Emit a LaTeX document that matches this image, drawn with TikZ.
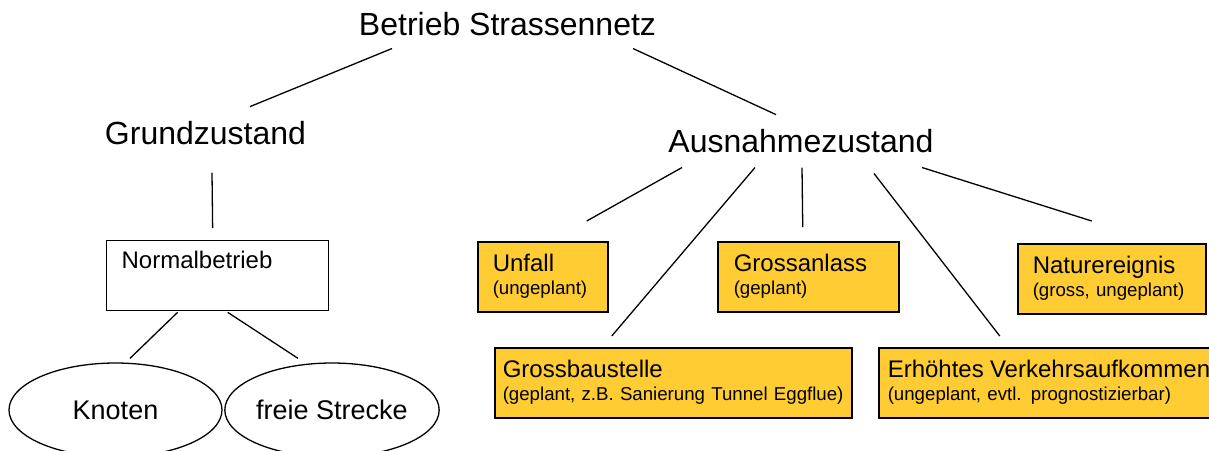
\documentclass[tikz,border=0pt]{standalone}
\usepackage{fontspec}
\setmainfont{Liberation Sans}
\usetikzlibrary{shapes.geometric}
\definecolor{eventfill}{HTML}{FFCC33}
\newcommand{\eventname}[1]{{\fontsize{24}{23}\selectfont #1}}

\begin{document}
\begin{tikzpicture}[
    x=1pt, y=-1pt,
    heading/.style={inner sep=0pt, anchor=base, font=\fontsize{32}{38}\selectfont},
    plainbox/.style={rectangle, draw, line width=1.3pt, anchor=north west, inner xsep=15pt, inner ysep=0pt, align=left, text height=28pt, text depth=42pt, font=\fontsize{24}{28}\selectfont},
    event/.style={rectangle, draw, line width=1.5pt, fill=eventfill, anchor=north west, inner ysep=0pt, align=left, text height=30pt, text depth=40pt, font=\fontsize{18.67}{23}\selectfont},
    place/.style={ellipse, draw, line width=1.3pt, minimum width=213pt, minimum height=94pt, inner sep=0pt, font=\fontsize{27}{32}\selectfont},
    link/.style={line width=1.3pt}
]
    \clip (0,0) rectangle (1209,450);

    % top of the tree
    \node[heading] (netz) at (507.5,35) {Betrieb Strassennetz};
    \node[heading] (grund) at (205.5,144) {Grundzustand};
    \node[heading] (ausnahme) at (801,152) {Ausnahmezustand};

    % normal operation
    \node[plainbox, text width=192pt] (normal) at (106,240) {Normalbetrieb};
    \node[place] (knoten) at (115.5,410) {Knoten};
    \node[place] (strecke) at (332,410) {freie Strecke};

    % exceptional states
    \node[event, inner xsep=15pt, text width=100pt] (unfall) at (477,241) {\eventname{Unfall}\\(ungeplant)};
    \node[event, inner xsep=16pt, text width=149pt] (anlass) at (717,241) {\eventname{Grossanlass}\\(geplant)};
    \node[event, inner xsep=15pt, text width=158pt] (natur) at (1017,243) {\eventname{Naturereignis}\\(gross, ungeplant)};
    \node[event, inner xsep=8pt, text width=341pt] (baustelle) at (494,347) {\eventname{Grossbaustelle}\\(geplant, z.B. Sanierung Tunnel Eggflue)};
    \node[event, inner xsep=9pt, text width=332pt] (verkehr) at (878,347) {\eventname{Erhöhtes Verkehrsaufkommen}\\(ungeplant, evtl. prognostizierbar)};

    \draw[link] ([shift={(-115.5,13)}]netz.south) -- ([shift={(44.5,-14)}]grund.north);
    \draw[link] ([shift={(125.5,13)}]netz.south) -- ([shift={(-25,-14)}]ausnahme.north);
    \draw[link] ([shift={(6.5,28)}]grund.south) -- ([shift={(-5,-12)}]normal.north);
    \draw[link] ([shift={(-40,1)}]normal.south) -- ([shift={(14.5,-4)}]knoten.north);
    \draw[link] ([shift={(10,1)}]normal.south) -- ([shift={(-34,-4)}]strecke.north);

    \draw[link] ([shift={(-119,15)}]ausnahme.south) -- ([shift={(44,-20)}]unfall.north);
    \draw[link] ([shift={(-46,15)}]ausnahme.south) -- ([shift={(-61.5,-11)}]baustelle.north);
    \draw[link] ([shift={(1,15)}]ausnahme.south) -- ([shift={(-5.5,-14)}]anlass.north);
    \draw[link] ([shift={(73,21)}]ausnahme.south) -- ([shift={(-54,-11)}]verkehr.north);
    \draw[link] ([shift={(121,15)}]ausnahme.south) -- ([shift={(-20,-22)}]natur.north);
\end{tikzpicture}
\end{document}
